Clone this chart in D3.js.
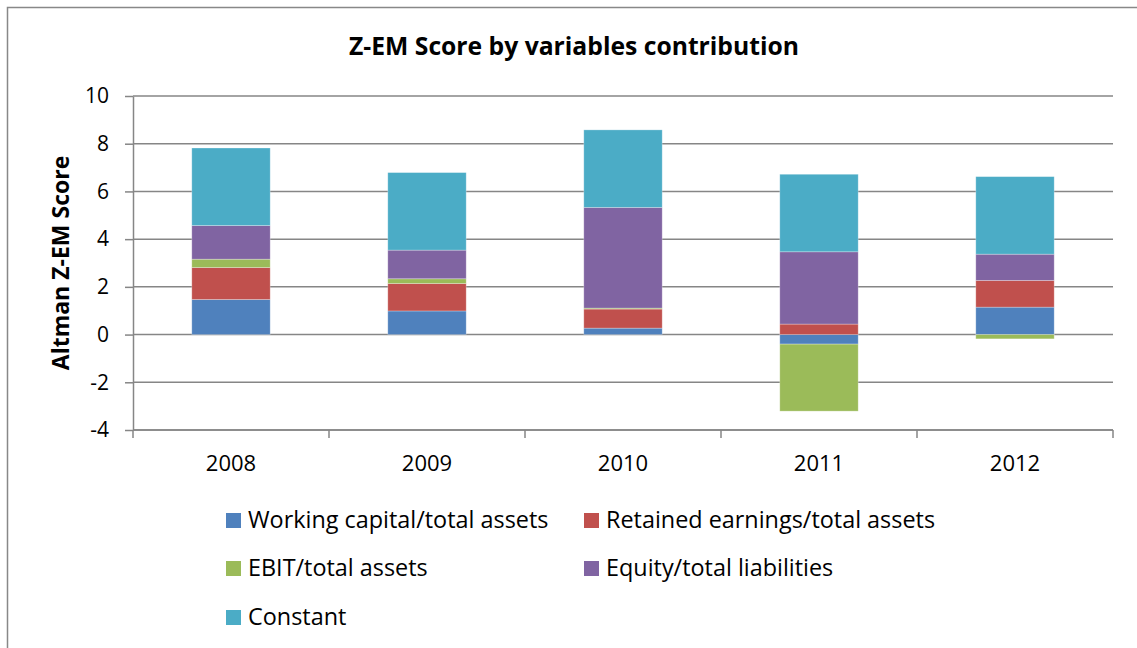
<!DOCTYPE html>
<html>
<head>
<meta charset="utf-8">
<script src="https://cdn.jsdelivr.net/npm/d3@7"></script>
<style>
  body { margin: 0; background: #fff; }
  svg { display: block; }
  text { font-family: "Open Sans", "Noto Sans", sans-serif; fill: #000; }
</style>
</head>
<body>
<script>
// values
const years = ["2008", "2009", "2010", "2011", "2012"];
const workingCapital = [1.47, 0.99, 0.27, -0.40, 1.15];
const retainedEarnings = [1.34, 1.15, 0.80, 0.44, 1.12];
const ebit = [0.35, 0.20, 0.04, -2.81, -0.18];
const equity = [1.41, 1.20, 4.22, 3.03, 1.10];
const constant = [3.25, 3.25, 3.25, 3.25, 3.25];
const seriesNames = ["Working capital/total assets", "Retained earnings/total assets",
    "EBIT/total assets", "Equity/total liabilities", "Constant"];
const yTicks = [-4, -2, 0, 2, 4, 6, 8, 10];

const colors = ["#4F81BD", "#C0504D", "#9BBB59", "#8064A2", "#4BACC6"];

const width = 1137, height = 648;
const margin = {top: 96, right: 24, bottom: 218, left: 133};

const svg = d3.select("body").append("svg")
    .attr("width", width)
    .attr("height", height);

// chart border (right and bottom edges fall outside the picture)
svg.append("rect")
    .attr("x", 7.5).attr("y", 7.5)
    .attr("width", width + 20).attr("height", height + 20)
    .attr("fill", "none")
    .attr("stroke", "#888")
    .attr("stroke-width", 1.5);

const rows = years.map((y, i) => ({
    year: y,
    s0: workingCapital[i], s1: retainedEarnings[i], s2: ebit[i], s3: equity[i], s4: constant[i]
}));
const keys = ["s0", "s1", "s2", "s3", "s4"];

const stacked = d3.stack()
    .keys(keys)
    .offset(d3.stackOffsetDiverging)(rows);

const x = d3.scaleBand()
    .domain(years)
    .range([margin.left, width - margin.right])
    .paddingInner(0.6)
    .paddingOuter(0.3);

const y = d3.scaleLinear()
    .domain([-4, 10])
    .range([height - margin.bottom, margin.top]);

// gridlines
svg.append("g")
    .selectAll("line")
    .data(yTicks)
    .join("line")
    .attr("x1", margin.left)
    .attr("x2", width - margin.right)
    .attr("y1", d => y(d))
    .attr("y2", d => y(d))
    .attr("stroke", "#868686")
    .attr("stroke-width", 1.5);

// bars
svg.append("g")
    .selectAll("g")
    .data(stacked)
    .join("g")
    .attr("fill", (d, i) => colors[i])
    .selectAll("rect")
    .data(d => d)
    .join("rect")
    .attr("x", d => x(d.data.year))
    .attr("width", x.bandwidth())
    .attr("y", d => y(Math.max(d[0], d[1])))
    .attr("height", d => Math.abs(y(d[0]) - y(d[1])))
    .attr("stroke", "rgba(255,255,255,0.35)")
    .attr("stroke-width", 0.8);

// y axis
const yAxis = svg.append("g")
    .attr("transform", `translate(${margin.left},0)`)
    .call(d3.axisLeft(y).tickValues(yTicks).tickFormat(d => String(d))
        .tickSize(8).tickSizeOuter(0).tickPadding(16));
yAxis.select(".domain").attr("stroke", "#868686").attr("stroke-width", 1.5);
yAxis.selectAll(".tick line").attr("stroke", "#868686").attr("stroke-width", 1.5);
yAxis.selectAll(".tick text")
    .attr("font-size", 21)
    .attr("font-family", "Open Sans, sans-serif");

// x axis: ticks sit at the band edges like Excel
const xAxisG = svg.append("g")
    .attr("transform", `translate(0,${y(-4)})`);
xAxisG.append("line")
    .attr("x1", margin.left).attr("x2", width - margin.right)
    .attr("stroke", "#868686").attr("stroke-width", 1.5);
const edges = d3.range(years.length + 1).map(i => margin.left + i * (width - margin.left - margin.right) / years.length);
xAxisG.selectAll(".edge")
    .data(edges)
    .join("line")
    .attr("class", "edge")
    .attr("x1", d => d).attr("x2", d => d)
    .attr("y1", 0).attr("y2", 8)
    .attr("stroke", "#868686").attr("stroke-width", 1.5);
xAxisG.selectAll(".lbl")
    .data(years)
    .join("text")
    .attr("class", "lbl")
    .attr("x", d => x(d) + x.bandwidth() / 2)
    .attr("y", 41)
    .attr("text-anchor", "middle")
    .attr("font-size", 22)
    .text(d => d);

// title
svg.append("text")
    .attr("x", 574)
    .attr("y", 55)
    .attr("text-anchor", "middle")
    .attr("font-size", 24.7)
    .attr("font-weight", "bold")
    .text("Z-EM Score by variables contribution");

// y axis title
svg.append("text")
    .attr("transform", `translate(69,263) rotate(-90)`)
    .attr("text-anchor", "middle")
    .attr("font-size", 23)
    .attr("font-weight", "bold")
    .text("Altman Z-EM Score");

// legend
const legendPos = [[226, 513], [584, 513], [226, 561], [584, 561], [226, 610]];
const legend = svg.append("g")
    .selectAll("g")
    .data(seriesNames)
    .join("g")
    .attr("transform", (d, i) => `translate(${legendPos[i][0]},${legendPos[i][1]})`);
legend.append("rect")
    .attr("width", 15).attr("height", 15)
    .attr("fill", (d, i) => colors[i]);
legend.append("text")
    .attr("x", 22)
    .attr("y", 15)
    .attr("font-size", 23.4)
    .text(d => d);
</script>
</body>
</html>
